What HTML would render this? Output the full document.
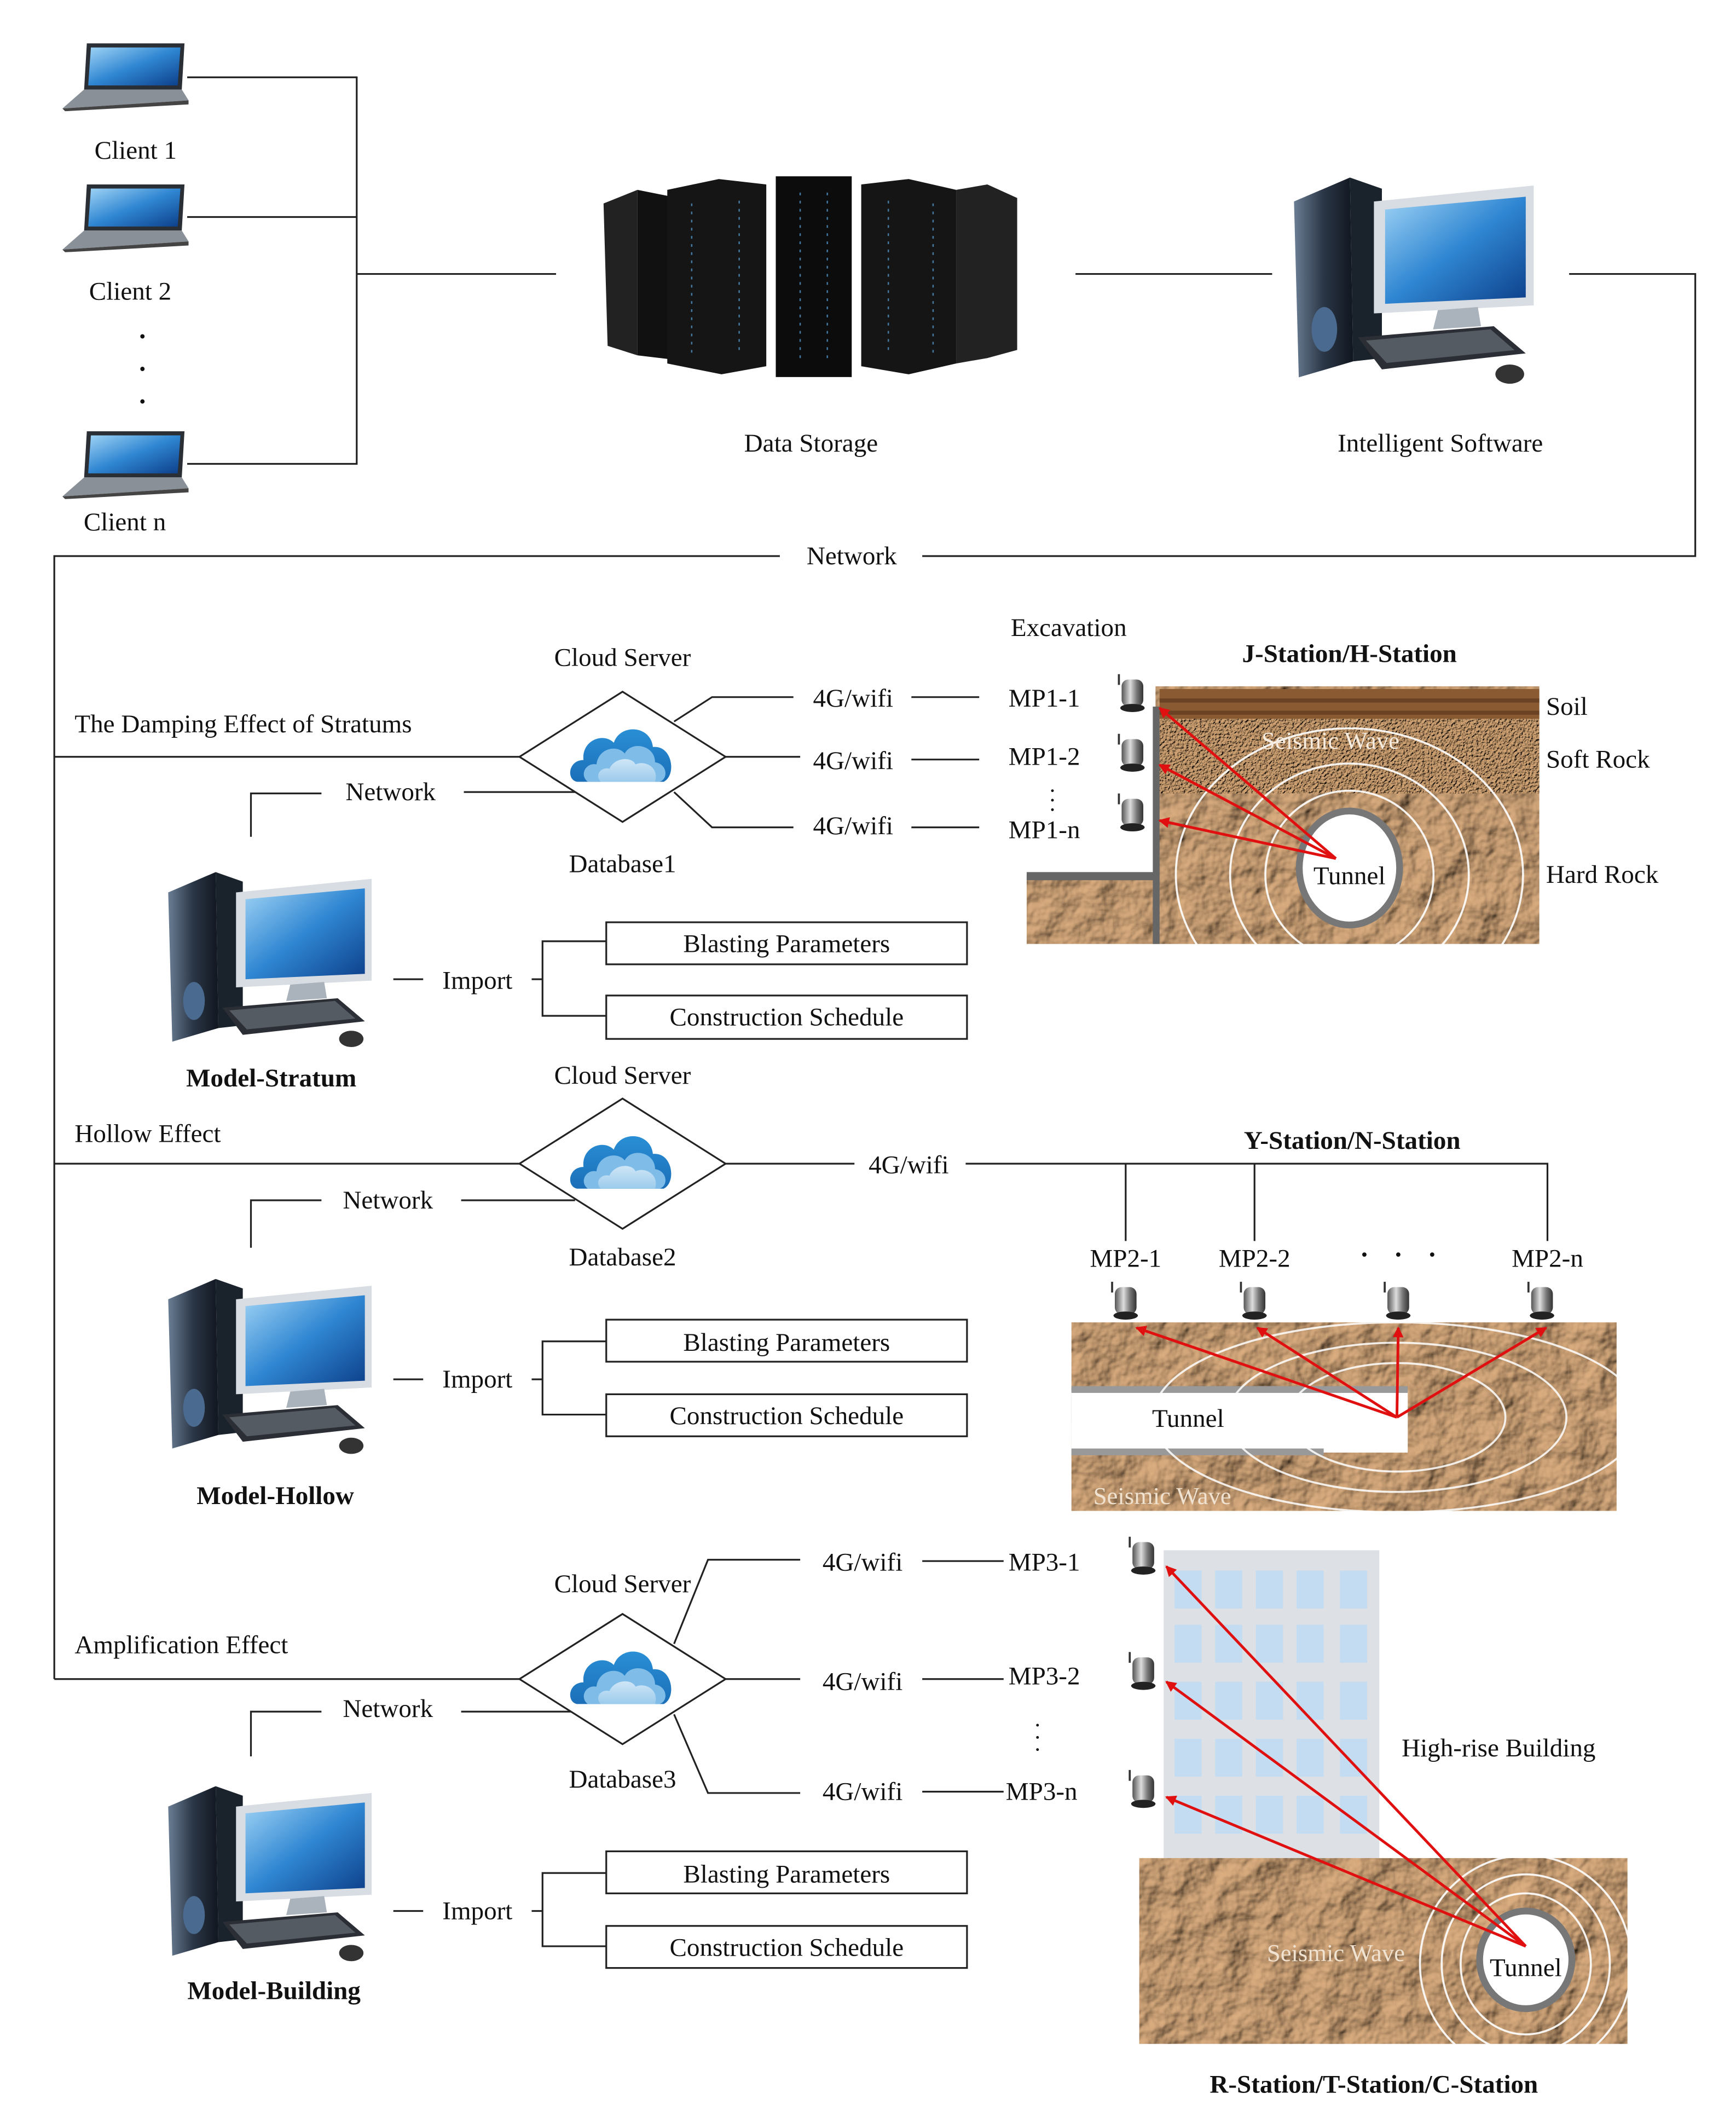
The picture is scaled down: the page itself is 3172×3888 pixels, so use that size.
<!DOCTYPE html>
<html><head><meta charset="utf-8">
<style>
html,body{margin:0;padding:0;background:#fff;}
svg{display:block;}
text{font-family:"Liberation Serif",serif;fill:#111;}
</style></head>
<body>
<svg width="3172" height="3888" viewBox="0 0 1280 1569" xmlns="http://www.w3.org/2000/svg">
<defs>
<filter id="rock" x="0" y="0" width="100%" height="100%">
 <feTurbulence type="fractalNoise" baseFrequency="0.035" numOctaves="4" seed="3" result="n"/>
 <feDiffuseLighting in="n" lighting-color="#dcae80" surfaceScale="6" result="l"><feDistantLight azimuth="225" elevation="45"/></feDiffuseLighting>
 <feComposite in="l" in2="SourceGraphic" operator="in"/>
</filter>
<filter id="soft" x="0" y="0" width="100%" height="100%">
 <feTurbulence type="fractalNoise" baseFrequency="0.5" numOctaves="2" seed="5" result="n"/>
 <feDiffuseLighting in="n" lighting-color="#d6a777" surfaceScale="2" result="l"><feDistantLight azimuth="225" elevation="55"/></feDiffuseLighting>
 <feComposite in="l" in2="SourceGraphic" operator="in"/>
</filter>
<linearGradient id="scr" x1="0" y1="0" x2="1" y2="1"><stop offset="0" stop-color="#9fd3f5"/><stop offset="0.5" stop-color="#2f86d2"/><stop offset="1" stop-color="#0d3f8a"/></linearGradient>
<linearGradient id="twr" x1="0" y1="0" x2="1" y2="0"><stop offset="0" stop-color="#6a7d93"/><stop offset="0.5" stop-color="#2a3646"/><stop offset="1" stop-color="#11161f"/></linearGradient>
<linearGradient id="cl" x1="0" y1="0" x2="0" y2="1"><stop offset="0" stop-color="#2a8fd6"/><stop offset="1" stop-color="#1b6fb8"/></linearGradient>
<linearGradient id="cl2" x1="0" y1="0" x2="0" y2="1"><stop offset="0" stop-color="#cfe6f6"/><stop offset="1" stop-color="#9ccbec"/></linearGradient>
<linearGradient id="sens" x1="0" y1="0" x2="1" y2="0"><stop offset="0" stop-color="#555"/><stop offset="0.4" stop-color="#ddd"/><stop offset="0.7" stop-color="#777"/><stop offset="1" stop-color="#333"/></linearGradient>
<marker id="ar" markerWidth="8" markerHeight="8" refX="7" refY="4" orient="auto" markerUnits="userSpaceOnUse"><path d="M0,0 L8,4 L0,8 z" fill="#e01010"/></marker>
<symbol id="pc" viewBox="0 0 160 140">
 <path d="M5,20 L40,5 L42,120 L8,130 z" fill="url(#twr)"/>
 <path d="M40,5 L60,12 L60,118 L42,120 z" fill="#1a222c"/>
 <ellipse cx="24" cy="100" rx="8" ry="14" fill="#4a6a90"/>
 <path d="M55,20 L155,10 L155,85 L55,90 z" fill="#d8dde3"/>
 <path d="M62,25 L150,17 L150,80 L62,84 z" fill="url(#scr)"/>
 <path d="M95,88 L120,86 L122,98 L92,100 z" fill="#aab2bb"/>
 <path d="M45,105 L130,98 L150,115 L60,125 z" fill="#2b2f35"/>
 <path d="M50,107 L128,100 L143,113 L63,121 z" fill="#555b63"/>
 <ellipse cx="140" cy="128" rx="9" ry="6" fill="#333"/>
</symbol>
<symbol id="lap" viewBox="0 0 95 52">
 <path d="M20,2 L92,2 L90,36 L18,36 z" fill="#2a2f36"/>
 <path d="M23,5 L89,5 L87,33 L21,33 z" fill="url(#scr)"/>
 <path d="M18,36 L90,36 L95,44 L2,50 z" fill="#8a9098"/>
 <path d="M2,50 L95,44 L95,47 L4,52 z" fill="#444"/>
</symbol>
<symbol id="cloud" viewBox="0 0 100 60">
 <path d="M8,58 C-2,56 0,38 14,38 C12,20 32,12 42,22 C48,4 76,6 78,26 C96,24 100,52 88,58 z" fill="url(#cl)"/>
 <path d="M18,58 C10,52 16,40 26,42 C28,26 46,24 52,32 C58,20 80,24 80,40 C92,42 92,56 84,58 z" fill="#7fbde8"/>
 <path d="M30,58 C24,52 30,44 38,46 C42,36 58,34 62,42 C70,38 84,44 80,58 z" fill="url(#cl2)"/>
</symbol>
<symbol id="sensor" viewBox="0 0 24 30">
 <path d="M3,0 L3,8" stroke="#333" stroke-width="1.5"/>
 <rect x="5" y="4" width="16" height="20" rx="5" fill="url(#sens)"/>
 <ellipse cx="13" cy="25" rx="9" ry="3" fill="#222"/>
</symbol>
</defs>

<g stroke="#222" stroke-width="1.3" fill="none">
 <polyline points="138,57 263,57 263,342 138,342"/>
 <line x1="138" y1="160" x2="263" y2="160"/>
 <line x1="263" y1="202" x2="410" y2="202"/>
 <line x1="793" y1="202" x2="938" y2="202"/>
 <polyline points="1157,202 1250,202 1250,410 680,410"/>
 <polyline points="575,410 40,410 40,1238"/>
 <line x1="40" y1="558" x2="383" y2="558"/>
 <polyline points="497,532 525,514 585,514"/><line x1="672" y1="514" x2="722" y2="514"/>
 <line x1="535" y1="558" x2="590" y2="558"/><line x1="672" y1="560" x2="722" y2="560"/>
 <polyline points="497,584 525,610 585,610"/><line x1="672" y1="610" x2="722" y2="610"/>
 <polyline points="185,617 185,585 237,585"/><line x1="342" y1="584" x2="424" y2="584"/>
 <line x1="290" y1="722" x2="312" y2="722"/>
 <polyline points="447,694 400,694 400,749 447,749"/><line x1="392" y1="722" x2="400" y2="722"/>
 <line x1="40" y1="858" x2="383" y2="858"/>
 <line x1="535" y1="858" x2="630" y2="858"/>
 <polyline points="830,915 830,858 712,858"/><polyline points="925,915 925,858"/>
 <polyline points="830,858 1141,858 1141,915"/>
 <polyline points="185,920 185,885 237,885"/><line x1="340" y1="885" x2="424" y2="885"/>
 <line x1="290" y1="1017" x2="312" y2="1017"/>
 <polyline points="447,989 400,989 400,1043 447,1043"/><line x1="392" y1="1017" x2="400" y2="1017"/>
 <line x1="40" y1="1238" x2="383" y2="1238"/>
 <polyline points="497,1212 522,1150 590,1150"/><line x1="680" y1="1151" x2="740" y2="1151"/>
 <line x1="535" y1="1238" x2="590" y2="1238"/><line x1="680" y1="1238" x2="740" y2="1238"/>
 <polyline points="497,1264 522,1322 590,1322"/><line x1="680" y1="1321" x2="740" y2="1321"/>
 <polyline points="185,1295 185,1262 237,1262"/><line x1="340" y1="1262" x2="424" y2="1262"/>
 <line x1="290" y1="1409" x2="312" y2="1409"/>
 <polyline points="447,1381 400,1381 400,1435 447,1435"/><line x1="392" y1="1409" x2="400" y2="1409"/>
</g>

<use href="#lap" x="44" y="30" width="95" height="52"/>
<use href="#lap" x="44" y="134" width="95" height="52"/>
<use href="#lap" x="44" y="316" width="95" height="52"/>
<text x="100" y="117" font-size="19" text-anchor="middle">Client 1</text>
<text x="96" y="221" font-size="19" text-anchor="middle">Client 2</text>
<text x="92" y="391" font-size="19" text-anchor="middle">Client n</text>
<g fill="#111"><circle cx="105" cy="248" r="1.6"/><circle cx="105" cy="272" r="1.6"/><circle cx="105" cy="296" r="1.6"/></g>

<g>
 <path d="M445,150 L470,140 L470,262 L448,255 z" fill="#222"/>
 <path d="M470,140 L495,145 L495,265 L470,262 z" fill="#111"/>
 <path d="M492,140 L530,132 L565,136 L565,270 L532,276 L492,268 z" fill="#151515"/>
 <path d="M572,130 L628,130 L628,278 L572,278 z" fill="#0c0c0c"/>
 <path d="M635,136 L670,132 L705,140 L705,268 L670,276 L635,270 z" fill="#151515"/>
 <path d="M705,140 L728,136 L750,146 L750,258 L728,264 L705,268 z" fill="#222"/>
 <g stroke="#5aa7e0" stroke-width="1" opacity="0.7">
  <line x1="510" y1="150" x2="510" y2="260" stroke-dasharray="2 4"/>
  <line x1="545" y1="148" x2="545" y2="262" stroke-dasharray="2 4"/>
  <line x1="590" y1="142" x2="590" y2="268" stroke-dasharray="2 4"/>
  <line x1="610" y1="142" x2="610" y2="268" stroke-dasharray="2 4"/>
  <line x1="655" y1="148" x2="655" y2="262" stroke-dasharray="2 4"/>
  <line x1="688" y1="150" x2="688" y2="260" stroke-dasharray="2 4"/>
 </g>
</g>
<text x="598" y="333" font-size="19" text-anchor="middle">Data Storage</text>

<use href="#pc" x="945" y="125" width="195" height="165"/>
<text x="1062" y="333" font-size="19" text-anchor="middle">Intelligent Software</text>
<text x="628" y="416" font-size="19" text-anchor="middle">Network</text>

<g stroke="#222" stroke-width="1.3" fill="#fff">
 <polygon points="383,558 459,510 535,558 459,606"/>
 <polygon points="383,858 459,810 535,858 459,906"/>
 <polygon points="383,1238 459,1190 535,1238 459,1286"/>
</g>
<use href="#cloud" x="415" y="530" width="88" height="48"/>
<use href="#cloud" x="415" y="830" width="88" height="48"/>
<use href="#cloud" x="415" y="1210" width="88" height="48"/>

<!-- Scene 1 -->
<rect x="852" y="506" width="283" height="190" fill="#b0825a" filter="url(#rock)"/>
<rect x="757" y="646" width="95" height="50" fill="#b0825a" filter="url(#rock)"/>
<rect x="855" y="508" width="280" height="22" fill="#8a5a32"/>
<rect x="855" y="515" width="280" height="3" fill="#6b4224"/>
<rect x="855" y="524" width="280" height="3" fill="#6b4224"/>
<rect x="855" y="530" width="280" height="55" fill="#c0905f" filter="url(#soft)"/>
<rect x="850" y="521" width="5" height="175" fill="#666"/>
<rect x="757" y="643" width="96" height="6" fill="#666"/>
<g fill="none" stroke="#fff" stroke-width="1.5" opacity="0.9">
 <ellipse cx="995" cy="645" rx="128" ry="108"/>
 <ellipse cx="995" cy="645" rx="88" ry="82"/>
 <ellipse cx="995" cy="645" rx="62" ry="62"/>
</g>
<ellipse cx="995" cy="640" rx="37" ry="42" fill="#fff" stroke="#777" stroke-width="5"/>
<text x="995" y="652" font-size="19" text-anchor="middle">Tunnel</text>
<text x="981" y="552" font-size="18" text-anchor="middle" style="fill:#f5ecdf">Seismic Wave</text>
<g stroke="#e01010" stroke-width="2" marker-end="url(#ar)">
 <line x1="985" y1="633" x2="855" y2="522"/>
 <line x1="985" y1="633" x2="855" y2="564"/>
 <line x1="985" y1="633" x2="855" y2="605"/>
</g>
<use href="#sensor" x="822" y="497" width="24" height="30"/>
<use href="#sensor" x="822" y="541" width="24" height="30"/>
<use href="#sensor" x="822" y="585" width="24" height="30"/>
<g font-size="19"><text x="1140" y="527">Soil</text><text x="1140" y="566">Soft Rock</text><text x="1140" y="651">Hard Rock</text></g>

<g font-size="19" text-anchor="middle">
 <text x="459" y="491">Cloud Server</text>
 <text x="459" y="643">Database1</text>
 <text x="288" y="590">Network</text>
 <text x="629" y="521">4G/wifi</text><text x="629" y="567">4G/wifi</text><text x="629" y="615">4G/wifi</text>
 <text x="770" y="521">MP1-1</text><text x="770" y="564">MP1-2</text><text x="770" y="618">MP1-n</text>
 <text x="352" y="729">Import</text>
 <text x="580" y="702">Blasting Parameters</text>
 <text x="580" y="756">Construction Schedule</text>
 <text x="788" y="469">Excavation</text>
 <text x="459" y="799">Cloud Server</text>
 <text x="459" y="933">Database2</text>
 <text x="286" y="891">Network</text>
 <text x="670" y="865">4G/wifi</text>
 <text x="830" y="934">MP2-1</text><text x="925" y="934">MP2-2</text><text x="1141" y="934">MP2-n</text>
 <text x="352" y="1023">Import</text>
 <text x="580" y="996">Blasting Parameters</text>
 <text x="580" y="1050">Construction Schedule</text>
 <text x="459" y="1174">Cloud Server</text>
 <text x="459" y="1318">Database3</text>
 <text x="286" y="1266">Network</text>
 <text x="636" y="1158">4G/wifi</text><text x="636" y="1246">4G/wifi</text><text x="636" y="1327">4G/wifi</text>
 <text x="770" y="1158">MP3-1</text><text x="770" y="1242">MP3-2</text><text x="768" y="1327">MP3-n</text>
 <text x="352" y="1415">Import</text>
 <text x="580" y="1388">Blasting Parameters</text>
 <text x="580" y="1442">Construction Schedule</text>
</g>
<g font-size="19">
 <text x="55" y="540">The Damping Effect of Stratums</text>
 <text x="55" y="842">Hollow Effect</text>
 <text x="55" y="1219">Amplification Effect</text>
</g>
<g font-size="19" font-weight="bold" text-anchor="middle">
 <text x="200" y="801">Model-Stratum</text>
 <text x="203" y="1109">Model-Hollow</text>
 <text x="202" y="1474">Model-Building</text>
 <text x="995" y="488">J-Station/H-Station</text>
 <text x="997" y="847">Y-Station/N-Station</text>
 <text x="1013" y="1543">R-Station/T-Station/C-Station</text>
</g>
<g fill="#111"><circle cx="1006" cy="925" r="1.6"/><circle cx="1031" cy="925" r="1.6"/><circle cx="1056" cy="925" r="1.6"/>
<circle cx="776" cy="583" r="1"/><circle cx="776" cy="590" r="1"/><circle cx="776" cy="597" r="1"/>
<circle cx="765" cy="1272" r="1"/><circle cx="765" cy="1281" r="1"/><circle cx="765" cy="1290" r="1"/></g>

<g stroke="#222" stroke-width="1.3" fill="none">
 <rect x="447" y="680" width="266" height="31"/><rect x="447" y="734" width="266" height="32"/>
 <rect x="447" y="973" width="266" height="31"/><rect x="447" y="1028" width="266" height="31"/>
 <rect x="447" y="1365" width="266" height="31"/><rect x="447" y="1420" width="266" height="31"/>
</g>

<use href="#pc" x="118" y="638" width="162" height="140"/>
<use href="#pc" x="118" y="938" width="162" height="140"/>
<use href="#pc" x="118" y="1312" width="162" height="140"/>

<!-- Scene 2 -->
<rect x="790" y="975" width="402" height="139" fill="#b0825a" filter="url(#rock)"/>
<rect x="790" y="1025" width="248" height="46" fill="#fff"/>
<rect x="790" y="1022" width="248" height="5" fill="#999"/>
<rect x="790" y="1068" width="186" height="5" fill="#999"/>
<g fill="none" stroke="#fff" stroke-width="1.5" opacity="0.85">
 <ellipse cx="1030" cy="1045" rx="180" ry="70"/>
 <ellipse cx="1030" cy="1045" rx="125" ry="55"/>
 <ellipse cx="1030" cy="1045" rx="80" ry="40"/>
</g>
<text x="876" y="1052" font-size="19" text-anchor="middle">Tunnel</text>
<text x="857" y="1109" font-size="18" text-anchor="middle" style="fill:#f0e2d0">Seismic Wave</text>
<g stroke="#e01010" stroke-width="2" marker-end="url(#ar)">
 <line x1="1030" y1="1045" x2="838" y2="979"/>
 <line x1="1030" y1="1045" x2="927" y2="979"/>
 <line x1="1030" y1="1045" x2="1031" y2="979"/>
 <line x1="1030" y1="1045" x2="1140" y2="979"/>
</g>
<use href="#sensor" x="817" y="945" width="24" height="30"/>
<use href="#sensor" x="912" y="945" width="24" height="30"/>
<use href="#sensor" x="1018" y="945" width="24" height="30"/>
<use href="#sensor" x="1124" y="945" width="24" height="30"/>

<!-- Scene 3 -->
<rect x="858" y="1143" width="159" height="230" fill="#dde0e4"/>
<g fill="#c3dcf2">
 <rect x="866" y="1158" width="20" height="28"/><rect x="896" y="1158" width="20" height="28"/><rect x="926" y="1158" width="20" height="28"/><rect x="956" y="1158" width="20" height="28"/><rect x="988" y="1158" width="20" height="28"/>
 <rect x="866" y="1198" width="20" height="28"/><rect x="896" y="1198" width="20" height="28"/><rect x="926" y="1198" width="20" height="28"/><rect x="956" y="1198" width="20" height="28"/><rect x="988" y="1198" width="20" height="28"/>
 <rect x="866" y="1240" width="20" height="28"/><rect x="896" y="1240" width="20" height="28"/><rect x="926" y="1240" width="20" height="28"/><rect x="956" y="1240" width="20" height="28"/><rect x="988" y="1240" width="20" height="28"/>
 <rect x="866" y="1282" width="20" height="28"/><rect x="896" y="1282" width="20" height="28"/><rect x="926" y="1282" width="20" height="28"/><rect x="956" y="1282" width="20" height="28"/><rect x="988" y="1282" width="20" height="28"/>
 <rect x="866" y="1324" width="20" height="28"/><rect x="896" y="1324" width="20" height="28"/><rect x="926" y="1324" width="20" height="28"/><rect x="956" y="1324" width="20" height="28"/><rect x="988" y="1324" width="20" height="28"/>
</g>
<rect x="840" y="1370" width="360" height="137" fill="#b0825a" filter="url(#rock)"/>
<g fill="none" stroke="#fff" stroke-width="1.5" opacity="0.9">
 <ellipse cx="1125" cy="1448" rx="78" ry="80"/>
 <ellipse cx="1125" cy="1448" rx="62" ry="66"/>
 <ellipse cx="1125" cy="1448" rx="48" ry="52"/>
</g>
<ellipse cx="1125" cy="1445" rx="34" ry="36" fill="#fff" stroke="#777" stroke-width="5"/>
<text x="1125" y="1457" font-size="19" text-anchor="middle">Tunnel</text>
<text x="985" y="1446" font-size="18" text-anchor="middle" style="fill:#f0e2d0">Seismic Wave</text>
<g stroke="#e01010" stroke-width="2" marker-end="url(#ar)">
 <line x1="1125" y1="1435" x2="860" y2="1155"/>
 <line x1="1125" y1="1435" x2="860" y2="1240"/>
 <line x1="1125" y1="1435" x2="860" y2="1325"/>
</g>
<use href="#sensor" x="830" y="1133" width="24" height="30"/>
<use href="#sensor" x="830" y="1218" width="24" height="30"/>
<use href="#sensor" x="830" y="1305" width="24" height="30"/>
<text x="1105" y="1295" font-size="19" text-anchor="middle">High-rise Building</text>
</svg>
</body></html>
